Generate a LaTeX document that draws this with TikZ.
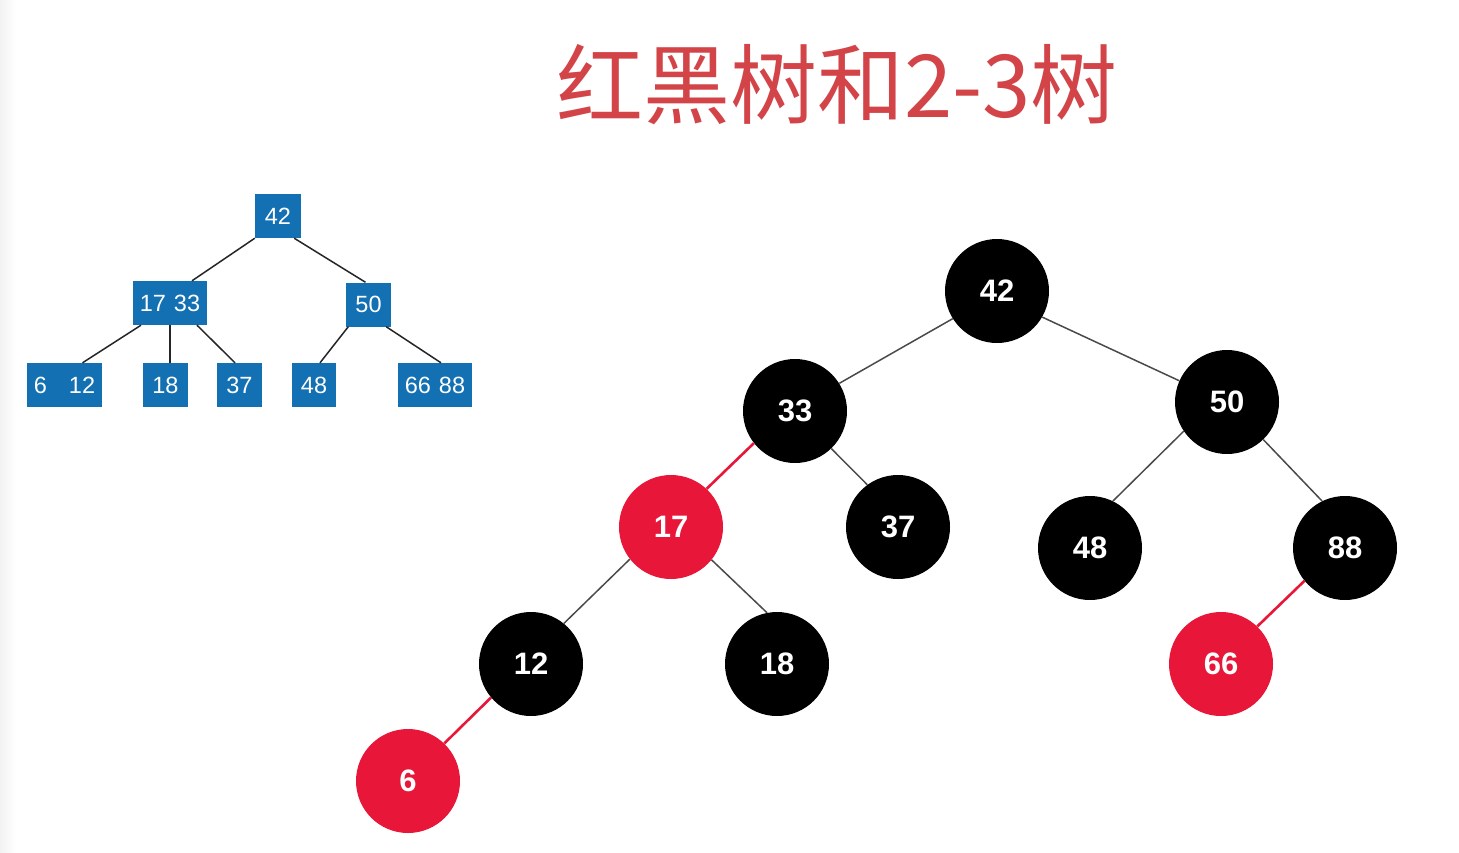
\documentclass[tikz,border=0pt]{standalone}
\usepackage{fontspec}
\setmainfont{Liberation Sans}
\newfontfamily\cjk{Noto Sans CJK SC}
\definecolor{rbred}{HTML}{E8173A}
\definecolor{ttblue}{HTML}{1370B2}
\definecolor{titlered}{HTML}{D34448}
\definecolor{edgegray}{HTML}{4A4A4A}
\tikzset{
  rbnode/.style={circle, minimum size=104pt, inner sep=0pt, text=white, font=\fontsize{31}{31}\selectfont\bfseries},
  blk/.style={rbnode, fill=black},
  rd/.style={rbnode, fill=rbred},
  blkedge/.style={draw=edgegray, line width=1.5pt},
  rededge/.style={draw=rbred, line width=2.6pt},
  tbox/.style={rectangle, fill=ttblue, text=white, inner sep=0pt, minimum height=44pt, font=\fontsize{23.5}{23.5}\selectfont},
  tedge/.style={draw=black!85, line width=1.5pt},
}
\begin{document}
\begin{tikzpicture}[x=1pt,y=-1pt]
\useasboundingbox (0,0) rectangle (1459,852);
\fill[white] (0,0) rectangle (1459,852);
\shade[left color=black!5, right color=white] (0,0) rectangle (16,852);
% title
\node[anchor=center, text=titlered, font=\cjk\fontsize{87}{87}\selectfont] (title) at (837,85) {红黑树和2-3树};
% red-black tree nodes
\node[blk] (r42) at (997,291) {42};
\node[blk] (r33) at (795,411) {33};
\node[blk] (r50) at (1227,402) {50};
\node[rd]  (r17) at (671,527) {17};
\node[blk] (r37) at (898,527) {37};
\node[blk] (r48) at (1090,548) {48};
\node[blk] (r88) at (1345,548) {88};
\node[blk] (r12) at (531,664) {12};
\node[blk] (r18) at (777,664) {18};
\node[rd]  (r66) at (1221,664) {66};
\node[rd]  (r6)  at (408,781) {6};
% edges between node borders
\path[blkedge] (r42.-148) -- (r33.32);
\path[blkedge] (r42.-30) -- (r50.156);
\path[rededge] (r33.-142) -- (r17.47);
\path[blkedge] (r33.-46) -- (r37.126);
\path[blkedge] (r50.-146) -- (r48.64);
\path[blkedge] (r50.-46) -- (r88.116);
\path[blkedge] (r17.-142) -- (r12.51);
\path[blkedge] (r17.-39) -- (r18.101);
\path[rededge] (r88.-141) -- (r66.46);
\path[rededge] (r12.-140) -- (r6.46);
% 2-3 tree
\node[tbox, minimum width=46pt] (t42) at (278,216) {42};
\node[tbox, minimum width=74pt] (t1733) at (170,303) {17\hspace{8pt}33};
\node[tbox, minimum width=45pt] (t50) at (368.5,304.5) {50};
\node[tbox, minimum width=75pt] (t612) at (64.5,385) {6\hspace{22pt}12};
\node[tbox, minimum width=45pt] (t18) at (165.5,385) {18};
\node[tbox, minimum width=45pt] (t37) at (239.5,385) {37};
\node[tbox, minimum width=44pt] (t48) at (314,385) {48};
\node[tbox, minimum width=74pt] (t6688) at (435,385) {66\hspace{8pt}88};
\path[tedge] (t42.south west) -- ([xshift=22pt]t1733.north);
\path[tedge] ([xshift=-7pt]t42.south east) -- ([xshift=-3pt]t50.north);
\path[tedge] ([xshift=-29pt]t1733.south) -- ([xshift=18pt]t612.north);
\path[tedge] (t1733.south) -- ([xshift=4.5pt]t18.north);
\path[tedge] ([xshift=27pt]t1733.south) -- ([xshift=-4.5pt]t37.north);
\path[tedge] ([xshift=2.5pt]t50.south west) -- ([xshift=6pt]t48.north);
\path[tedge] ([xshift=-5pt]t50.south east) -- ([xshift=6pt]t6688.north);
\end{tikzpicture}
\end{document}
